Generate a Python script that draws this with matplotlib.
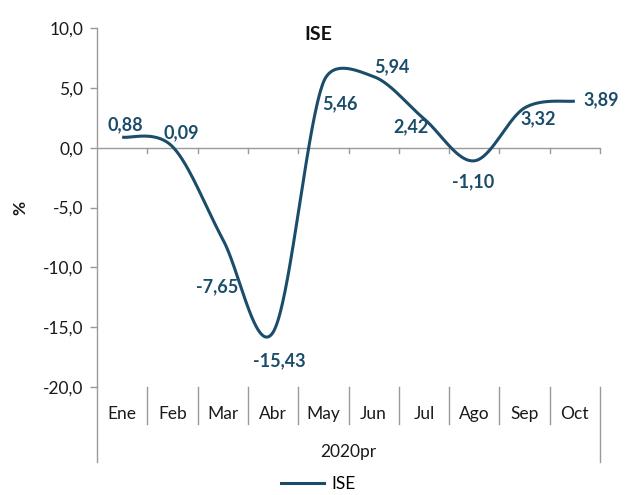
import numpy as np
import matplotlib
matplotlib.use("Agg")
import matplotlib.pyplot as plt
from matplotlib.lines import Line2D

months = ["Ene", "Feb", "Mar", "Abr", "May", "Jun", "Jul", "Ago", "Sep", "Oct"]
values = [0.88, 0.09, -7.65, -15.43, 5.46, 5.94, 2.42, -1.10, 3.32, 3.89]
year_label = "2020pr"
series_name = "ISE"
yticks = [10, 5, 0, -5, -10, -15, -20]
# label offsets in pixels (dx, dy) relative to each point
label_offsets = [(3, 12), (9, 14), (-6, -48), (6, -28), (17, -21),
                 (18, 10), (-13, -8), (-1, -21), (14, -11), (26, 1)]

COLOR = "#1b4d6b"
AXC = "#9a9a9a"
TXT = "#1a1a1a"
plt.rcParams['font.family'] = ['Lato', 'DejaVu Sans']
FS = 12.5

fig = plt.figure(figsize=(6.28, 4.95), dpi=100)
W, H = 628, 495
L, R, T, B = 97, 600, 28, 387
ax = fig.add_axes([L / W, 1 - B / H, (R - L) / W, (B - T) / H])

n = len(values)
xs = np.arange(n) + 0.5
ys = np.array(values)

# Excel-like smoothed line (Bezier, tangents clamped in screen space)
sx = (R - L) / n
sy = (B - T) / 30.0
P = np.column_stack([xs * sx, ys * sy])
Pext = np.vstack([P[0], P, P[-1]])
curve = []
t = np.linspace(0, 1, 60)
for i in range(n - 1):
    p0, p1, p2, p3 = Pext[i], Pext[i + 1], Pext[i + 2], Pext[i + 3]
    d12 = np.linalg.norm(p2 - p1)
    v1 = (p2 - p0) / 6
    v2 = (p3 - p1) / 6
    for v in (v1, v2):
        ln = np.linalg.norm(v)
        if ln > d12 / 2 and ln > 0:
            v *= (d12 / 2) / ln
    c1 = p1 + v1
    c2 = p2 - v2
    seg = ((1 - t) ** 3)[:, None] * p1 + (3 * (1 - t) ** 2 * t)[:, None] * c1 \
        + (3 * (1 - t) * t ** 2)[:, None] * c2 + (t ** 3)[:, None] * p2
    curve.append(seg)
curve = np.vstack(curve)
ax.plot(curve[:, 0] / sx, curve[:, 1] / sy, color=COLOR, lw=2.2,
        solid_capstyle='butt', zorder=3)

for x, v, (dx, dy) in zip(xs, values, label_offsets):
    ax.annotate(f"{v:.2f}".replace(".", ","), (x, v), xytext=(dx * 0.72, dy * 0.72),
                textcoords="offset points", ha="center", va="center",
                fontsize=13, fontweight="bold", color=COLOR, zorder=4)

ax.set_xlim(0, n)
ax.set_ylim(-20, 10)
ax.set_yticks(yticks)
ax.set_yticklabels([f"{v:.1f}".replace(".", ",") for v in yticks], fontsize=FS, color=TXT)
ax.tick_params(axis='y', direction='out', length=5, color=AXC, width=1, pad=5)
ax.set_xticks([])
for s in ['top', 'right', 'bottom']:
    ax.spines[s].set_visible(False)
ax.spines['left'].set_color(AXC)
ax.spines['left'].set_linewidth(1)

# zero line with ticks at category boundaries
ax.axhline(0, color=AXC, lw=1, zorder=1)
for b in range(1, n + 1):
    ax.plot([b, b], [0, -0.45], color=AXC, lw=1, clip_on=False, zorder=1)

trans = ax.get_xaxis_transform()
ax_h = B - T
def yf(py):
    return (B - py) / ax_h

# extended left spine and right outer line
ax.plot([0, 0], [0, yf(462)], color=AXC, lw=1, transform=trans, clip_on=False)
ax.plot([n, n], [yf(387), yf(462)], color=AXC, lw=1, transform=trans, clip_on=False)
for b in range(1, n):
    ax.plot([b, b], [yf(387), yf(424)], color=AXC, lw=1, transform=trans, clip_on=False)
for x, m in zip(xs, months):
    ax.text(x, yf(414), m, transform=trans, ha="center", va="center", fontsize=FS, color=TXT)
ax.text(n / 2, yf(452), year_label, transform=trans, ha="center", va="center", fontsize=FS, color=TXT)

ax.set_ylabel("%", fontsize=FS, fontweight="bold", color=TXT, labelpad=10)
fig.text(318 / W, 1 - 35 / H, series_name, ha="center", va="center",
         fontsize=14, fontweight="bold", color="#111111")

leg = fig.legend(handles=[Line2D([], [], color=COLOR, lw=2.2)], labels=[series_name],
                 loc="center", bbox_to_anchor=(318 / W, 1 - 484 / H), frameon=False,
                 fontsize=FS, handlelength=2.5, handletextpad=0.4)

fig.savefig("out.png", dpi=100)
